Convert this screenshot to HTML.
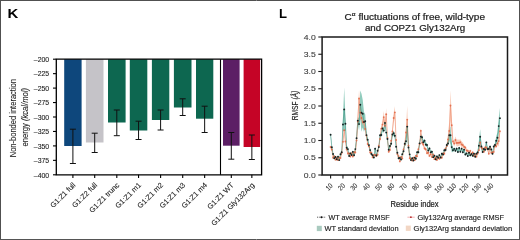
<!DOCTYPE html>
<html><head><meta charset="utf-8"><style>
html,body{margin:0;padding:0;background:#fff;-webkit-font-smoothing:antialiased;width:520px;height:240px;overflow:hidden;font-family:"Liberation Sans", sans-serif;}
</style></head><body>
<svg width="520" height="240" viewBox="0 0 520 240" style="position:absolute;left:0;top:0;will-change:transform">
<rect x="0" y="0" width="520" height="240" fill="#fff"/>
<text x="7.4" y="18.4" textLength="10.8" lengthAdjust="spacingAndGlyphs" font-family='"Liberation Sans", sans-serif' font-weight="bold" font-size="13.6" fill="#000">K</text>
<text x="279.0" y="18.4" textLength="8.0" lengthAdjust="spacingAndGlyphs" font-family='"Liberation Sans", sans-serif' font-weight="bold" font-size="13.6" fill="#000">L</text>
<rect x="64.2" y="59.2" width="17.4" height="86.80" fill="#0e477c"/>
<rect x="85.9" y="59.2" width="17.6" height="83.30" fill="#c5c3c8"/>
<rect x="108.0" y="59.2" width="17.6" height="63.30" fill="#0d6750"/>
<rect x="129.8" y="59.2" width="17.5" height="71.30" fill="#0d6750"/>
<rect x="151.9" y="59.2" width="17.4" height="60.80" fill="#0d6750"/>
<rect x="173.9" y="59.2" width="17.6" height="48.30" fill="#0d6750"/>
<rect x="196.0" y="59.2" width="17.3" height="59.50" fill="#0d6750"/>
<rect x="223.0" y="59.2" width="16.6" height="86.50" fill="#5c1f65"/>
<rect x="243.6" y="59.2" width="16.5" height="87.80" fill="#c50426"/>
<path d="M72.90 129.2V163.5M69.90 129.2h6M69.90 163.5h6" stroke="#111" stroke-width="1" fill="none"/>
<path d="M94.70 133.2V152.5M91.70 133.2h6M91.70 152.5h6" stroke="#111" stroke-width="1" fill="none"/>
<path d="M116.80 110.0V135.7M113.80 110.0h6M113.80 135.7h6" stroke="#111" stroke-width="1" fill="none"/>
<path d="M138.55 121.2V139.5M135.55 121.2h6M135.55 139.5h6" stroke="#111" stroke-width="1" fill="none"/>
<path d="M160.60 110.0V130.0M157.60 110.0h6M157.60 130.0h6" stroke="#111" stroke-width="1" fill="none"/>
<path d="M182.70 98.8V115.5M179.70 98.8h6M179.70 115.5h6" stroke="#111" stroke-width="1" fill="none"/>
<path d="M204.65 106.2V132.5M201.65 106.2h6M201.65 132.5h6" stroke="#111" stroke-width="1" fill="none"/>
<path d="M231.30 132.5V159.2M228.30 132.5h6M228.30 159.2h6" stroke="#111" stroke-width="1" fill="none"/>
<path d="M251.85 135.0V159.5M248.85 135.0h6M248.85 159.5h6" stroke="#111" stroke-width="1" fill="none"/>
<path d="M56.3 59.2V174.8H261.6V59.2Z" stroke="#000" stroke-width="1.3" fill="none"/>
<path d="M220.5 59.2V174.8" stroke="#000" stroke-width="1.1"/>
<path d="M53 59.20H56.3" stroke="#000" stroke-width="1.1"/>
<text x="49.2" y="61.90" text-anchor="end" font-family='"Liberation Sans", sans-serif' font-size="7.6" textLength="15.4" lengthAdjust="spacingAndGlyphs" fill="#1a1a1a" stroke="#1a1a1a" stroke-width="0.1">–200</text>
<path d="M53 73.65H56.3" stroke="#000" stroke-width="1.1"/>
<text x="49.2" y="76.35" text-anchor="end" font-family='"Liberation Sans", sans-serif' font-size="7.6" textLength="15.4" lengthAdjust="spacingAndGlyphs" fill="#1a1a1a" stroke="#1a1a1a" stroke-width="0.1">–225</text>
<path d="M53 88.10H56.3" stroke="#000" stroke-width="1.1"/>
<text x="49.2" y="90.80" text-anchor="end" font-family='"Liberation Sans", sans-serif' font-size="7.6" textLength="15.4" lengthAdjust="spacingAndGlyphs" fill="#1a1a1a" stroke="#1a1a1a" stroke-width="0.1">–250</text>
<path d="M53 102.55H56.3" stroke="#000" stroke-width="1.1"/>
<text x="49.2" y="105.25" text-anchor="end" font-family='"Liberation Sans", sans-serif' font-size="7.6" textLength="15.4" lengthAdjust="spacingAndGlyphs" fill="#1a1a1a" stroke="#1a1a1a" stroke-width="0.1">–275</text>
<path d="M53 117.00H56.3" stroke="#000" stroke-width="1.1"/>
<text x="49.2" y="119.70" text-anchor="end" font-family='"Liberation Sans", sans-serif' font-size="7.6" textLength="15.4" lengthAdjust="spacingAndGlyphs" fill="#1a1a1a" stroke="#1a1a1a" stroke-width="0.1">–300</text>
<path d="M53 131.45H56.3" stroke="#000" stroke-width="1.1"/>
<text x="49.2" y="134.15" text-anchor="end" font-family='"Liberation Sans", sans-serif' font-size="7.6" textLength="15.4" lengthAdjust="spacingAndGlyphs" fill="#1a1a1a" stroke="#1a1a1a" stroke-width="0.1">–325</text>
<path d="M53 145.90H56.3" stroke="#000" stroke-width="1.1"/>
<text x="49.2" y="148.60" text-anchor="end" font-family='"Liberation Sans", sans-serif' font-size="7.6" textLength="15.4" lengthAdjust="spacingAndGlyphs" fill="#1a1a1a" stroke="#1a1a1a" stroke-width="0.1">–350</text>
<path d="M53 160.35H56.3" stroke="#000" stroke-width="1.1"/>
<text x="49.2" y="163.05" text-anchor="end" font-family='"Liberation Sans", sans-serif' font-size="7.6" textLength="15.4" lengthAdjust="spacingAndGlyphs" fill="#1a1a1a" stroke="#1a1a1a" stroke-width="0.1">–375</text>
<path d="M53 174.80H56.3" stroke="#000" stroke-width="1.1"/>
<text x="49.2" y="177.50" text-anchor="end" font-family='"Liberation Sans", sans-serif' font-size="7.6" textLength="15.4" lengthAdjust="spacingAndGlyphs" fill="#1a1a1a" stroke="#1a1a1a" stroke-width="0.1">–400</text>
<path d="M72.90 174.8V178" stroke="#000" stroke-width="1.1"/>
<text x="75.90" y="185.60" transform="rotate(-45 75.90 185.60)" text-anchor="end" font-family='"Liberation Sans", sans-serif' font-size="7.4" fill="#1a1a1a" stroke="#1a1a1a" stroke-width="0.08">G1:Z1 full</text>
<path d="M94.70 174.8V178" stroke="#000" stroke-width="1.1"/>
<text x="97.70" y="185.60" transform="rotate(-45 97.70 185.60)" text-anchor="end" font-family='"Liberation Sans", sans-serif' font-size="7.4" fill="#1a1a1a" stroke="#1a1a1a" stroke-width="0.08">G1:Z2 full</text>
<path d="M116.80 174.8V178" stroke="#000" stroke-width="1.1"/>
<text x="119.80" y="185.60" transform="rotate(-45 119.80 185.60)" text-anchor="end" font-family='"Liberation Sans", sans-serif' font-size="7.4" fill="#1a1a1a" stroke="#1a1a1a" stroke-width="0.08">G1:Z1 trunc</text>
<path d="M138.55 174.8V178" stroke="#000" stroke-width="1.1"/>
<text x="141.55" y="185.60" transform="rotate(-45 141.55 185.60)" text-anchor="end" font-family='"Liberation Sans", sans-serif' font-size="7.4" fill="#1a1a1a" stroke="#1a1a1a" stroke-width="0.08">G1:Z1 m1</text>
<path d="M160.60 174.8V178" stroke="#000" stroke-width="1.1"/>
<text x="163.60" y="185.60" transform="rotate(-45 163.60 185.60)" text-anchor="end" font-family='"Liberation Sans", sans-serif' font-size="7.4" fill="#1a1a1a" stroke="#1a1a1a" stroke-width="0.08">G1:Z1 m2</text>
<path d="M182.70 174.8V178" stroke="#000" stroke-width="1.1"/>
<text x="185.70" y="185.60" transform="rotate(-45 185.70 185.60)" text-anchor="end" font-family='"Liberation Sans", sans-serif' font-size="7.4" fill="#1a1a1a" stroke="#1a1a1a" stroke-width="0.08">G1:Z1 m3</text>
<path d="M204.65 174.8V178" stroke="#000" stroke-width="1.1"/>
<text x="207.65" y="185.60" transform="rotate(-45 207.65 185.60)" text-anchor="end" font-family='"Liberation Sans", sans-serif' font-size="7.4" fill="#1a1a1a" stroke="#1a1a1a" stroke-width="0.08">G1:Z1 m4</text>
<path d="M231.30 174.8V178" stroke="#000" stroke-width="1.1"/>
<text x="234.30" y="185.60" transform="rotate(-45 234.30 185.60)" text-anchor="end" font-family='"Liberation Sans", sans-serif' font-size="7.4" fill="#1a1a1a" stroke="#1a1a1a" stroke-width="0.08">G1:Z1 WT</text>
<path d="M251.85 174.8V178" stroke="#000" stroke-width="1.1"/>
<text x="254.85" y="185.60" transform="rotate(-45 254.85 185.60)" text-anchor="end" font-family='"Liberation Sans", sans-serif' font-size="7.4" fill="#1a1a1a" stroke="#1a1a1a" stroke-width="0.08">G1:Z1 Gly132Arg</text>
<text transform="translate(16.4 157.3) rotate(-90)" textLength="78.3" lengthAdjust="spacingAndGlyphs" font-family='"Liberation Sans", sans-serif' font-size="9.4" fill="#1a1a1a" stroke="#1a1a1a" stroke-width="0.1">Non-bonded interaction</text>
<text transform="translate(27.6 146.6) rotate(-90)" textLength="58.6" lengthAdjust="spacingAndGlyphs" font-family='"Liberation Sans", sans-serif' font-size="9.4" fill="#1a1a1a" stroke="#1a1a1a" stroke-width="0.1">energy <tspan font-style="italic">(kcal/mol)</tspan></text>
<polygon points="330.60,132.31 331.84,145.47 333.07,152.68 334.31,157.10 335.54,155.77 336.78,157.97 338.02,155.51 339.25,158.88 340.49,152.90 341.72,149.72 342.96,117.54 344.20,87.49 345.43,116.72 346.67,145.01 347.90,147.48 349.14,154.73 350.38,151.99 351.61,153.59 352.85,150.32 354.08,153.85 355.32,147.46 356.56,135.96 357.79,117.52 359.03,117.75 360.26,90.62 361.50,93.71 362.74,99.94 363.97,112.00 365.21,114.15 366.44,130.68 367.68,137.70 368.92,143.27 370.15,148.50 371.39,152.67 372.62,153.89 373.86,156.34 375.10,147.09 376.33,154.18 377.57,149.24 378.80,145.37 380.04,132.93 381.28,132.58 382.51,125.88 383.75,127.93 384.98,119.93 386.22,130.14 387.46,136.88 388.69,148.21 389.93,144.21 391.16,141.89 392.40,132.15 393.64,130.83 394.87,133.47 396.11,144.95 397.34,151.24 398.58,157.00 399.82,156.84 401.05,158.27 402.29,152.77 403.52,149.70 404.76,141.78 406.00,136.51 407.23,118.66 408.47,143.99 409.70,152.98 410.94,158.88 412.18,157.02 413.41,159.34 414.65,156.40 415.88,157.60 417.12,150.68 418.36,150.77 419.59,141.43 420.83,134.31 422.06,134.99 423.30,140.21 424.54,138.73 425.77,142.79 427.01,143.10 428.24,148.96 429.48,146.83 430.72,150.85 431.95,150.22 433.19,155.91 434.42,154.40 435.66,158.08 436.90,155.10 438.13,156.48 439.37,153.78 440.60,156.31 441.84,152.31 443.08,153.19 444.31,148.66 445.55,148.45 446.78,143.08 448.02,141.55 449.26,129.54 450.49,126.01 451.73,141.93 452.96,148.73 454.20,147.21 455.44,149.21 456.67,147.02 457.91,150.52 459.14,146.23 460.38,150.25 461.62,147.00 462.85,150.76 464.09,148.03 465.32,153.08 466.56,151.98 467.80,154.71 469.03,151.31 470.27,153.89 471.50,152.66 472.74,154.48 473.98,152.37 475.21,155.55 476.45,152.24 477.68,150.86 478.92,140.52 480.16,129.34 481.39,142.95 482.63,150.47 483.86,147.36 485.10,148.19 486.34,140.43 487.57,147.40 488.81,147.33 490.04,144.93 491.28,147.75 492.52,152.39 493.75,144.78 494.99,143.17 496.22,136.60 497.46,132.14 498.70,118.16 499.93,108.05 499.93,128.22 498.70,134.09 497.46,143.45 496.22,144.85 494.99,146.86 493.75,148.32 492.52,155.20 491.28,151.00 490.04,148.45 488.81,150.62 487.57,150.69 486.34,144.38 485.10,151.40 483.86,150.65 482.63,153.46 481.39,149.94 480.16,144.20 478.92,151.03 477.68,153.81 476.45,155.06 475.21,158.06 473.98,155.19 472.74,157.09 471.50,155.45 470.27,156.56 469.03,154.23 467.80,157.30 466.56,154.83 465.32,155.82 464.09,151.26 462.85,153.73 461.62,150.32 460.38,153.27 459.14,149.63 457.91,153.51 456.67,150.34 455.44,152.32 454.20,150.51 452.96,151.89 451.73,152.31 450.49,144.48 449.26,141.10 448.02,145.39 446.78,146.78 445.55,151.63 444.31,151.83 443.08,155.92 441.84,155.12 440.60,158.75 439.37,156.45 438.13,158.90 436.90,157.65 435.66,160.50 434.42,157.02 433.19,158.38 431.95,153.24 430.72,153.81 429.48,150.17 428.24,152.09 427.01,146.79 425.77,146.51 424.54,142.84 423.30,144.18 422.06,139.45 420.83,138.84 419.59,145.28 418.36,153.73 417.12,153.66 415.88,160.01 414.65,158.83 413.41,161.75 412.18,159.44 410.94,161.30 409.70,155.73 408.47,150.88 407.23,134.54 406.00,146.09 404.76,145.60 403.52,152.77 402.29,155.55 401.05,160.68 399.82,159.26 398.58,159.41 397.34,154.16 396.11,148.47 394.87,138.08 393.64,135.70 392.40,136.89 391.16,145.70 389.93,147.80 388.69,151.42 387.46,141.17 386.22,135.07 384.98,125.83 383.75,133.07 382.51,131.22 381.28,137.28 380.04,137.59 378.80,148.85 377.57,152.35 376.33,156.82 375.10,150.41 373.86,158.78 372.62,156.55 371.39,155.45 370.15,151.68 368.92,146.95 367.68,141.91 366.44,139.51 365.21,128.49 363.97,131.80 362.74,127.46 361.50,131.68 360.26,119.03 359.03,130.43 357.79,123.65 356.56,140.34 355.32,150.74 354.08,156.52 352.85,153.33 351.61,156.29 350.38,154.84 349.14,157.32 347.90,150.76 346.67,150.50 345.43,130.81 344.20,131.31 342.96,131.55 341.72,154.75 340.49,155.66 339.25,161.30 338.02,158.02 336.78,160.38 335.54,158.26 334.31,159.51 333.07,155.46 331.84,148.94 330.60,137.04" fill="#45a890" fill-opacity="0.6"/>
<polygon points="330.60,145.28 331.84,147.94 333.07,156.51 334.31,155.02 335.54,158.46 336.78,156.80 338.02,158.95 339.25,156.37 340.49,156.80 341.72,151.30 342.96,139.72 344.20,127.59 345.43,139.51 346.67,147.70 347.90,152.08 349.14,152.07 350.38,155.20 351.61,151.64 352.85,155.25 354.08,150.78 355.32,151.07 356.56,134.99 357.79,111.56 359.03,90.16 360.26,105.74 361.50,114.88 362.74,119.25 363.97,119.15 365.21,126.26 366.44,133.30 367.68,142.10 368.92,144.45 370.15,150.98 371.39,151.19 372.62,156.06 373.86,153.75 375.10,153.56 376.33,154.54 377.57,153.43 378.80,144.18 380.04,136.85 381.28,125.99 382.51,120.03 383.75,111.12 384.98,123.00 386.22,107.98 387.46,135.81 388.69,150.18 389.93,148.48 391.16,138.62 392.40,128.84 393.64,113.06 394.87,106.13 396.11,137.89 397.34,152.72 398.58,155.03 399.82,160.20 401.05,155.59 402.29,157.34 403.52,147.75 404.76,142.46 406.00,126.54 407.23,106.12 408.47,141.09 409.70,157.01 410.94,157.64 412.18,159.38 413.41,156.51 414.65,158.92 415.88,154.48 417.12,155.07 418.36,147.61 419.59,142.15 420.83,128.15 422.06,140.90 423.30,142.63 424.54,146.78 425.77,147.54 427.01,151.75 428.24,150.99 429.48,154.58 430.72,152.77 431.95,155.86 433.19,153.18 434.42,157.95 435.66,156.16 436.90,158.81 438.13,155.98 439.37,157.62 440.60,155.91 441.84,156.65 443.08,152.05 444.31,152.35 445.55,147.14 446.78,144.25 448.02,133.82 449.26,121.46 450.49,90.33 451.73,115.49 452.96,139.41 454.20,140.67 455.44,136.48 456.67,139.68 457.91,139.51 459.14,139.73 460.38,139.19 461.62,141.57 462.85,142.57 464.09,145.10 465.32,145.74 466.56,149.01 467.80,149.23 469.03,151.13 470.27,149.31 471.50,152.70 472.74,151.01 473.98,154.70 475.21,152.80 476.45,155.40 477.68,152.05 478.92,148.59 480.16,140.51 481.39,145.86 482.63,146.90 483.86,150.21 485.10,145.76 486.34,145.70 487.57,147.44 488.81,152.32 490.04,146.18 491.28,151.37 492.52,150.86 493.75,150.39 494.99,143.58 496.22,144.59 497.46,141.49 498.70,135.63 499.93,125.25 499.93,137.21 498.70,146.61 497.46,145.34 496.22,148.14 494.99,147.23 493.75,153.39 492.52,153.82 491.28,154.28 490.04,149.58 488.81,155.13 487.57,150.72 486.34,149.15 485.10,149.21 483.86,153.23 482.63,150.23 481.39,149.29 480.16,144.45 478.92,151.76 477.68,154.89 476.45,157.92 475.21,155.57 473.98,157.29 472.74,153.95 471.50,155.48 470.27,152.42 469.03,154.06 467.80,152.34 466.56,152.15 465.32,149.18 464.09,148.61 462.85,147.63 461.62,147.38 460.38,145.23 459.14,145.72 457.91,146.18 456.67,146.33 455.44,143.44 454.20,146.57 452.96,143.45 451.73,134.95 450.49,120.74 449.26,140.36 448.02,144.97 446.78,147.83 445.55,150.45 444.31,155.16 443.08,154.89 441.84,159.06 440.60,158.39 439.37,160.04 438.13,158.45 436.90,161.23 435.66,158.61 434.42,160.36 433.19,155.92 431.95,158.34 430.72,155.54 429.48,157.18 428.24,153.93 427.01,154.62 425.77,150.81 424.54,150.12 423.30,146.37 422.06,144.80 420.83,133.27 419.59,145.94 418.36,150.88 417.12,157.62 415.88,157.09 414.65,161.34 413.41,158.93 412.18,161.79 410.94,160.06 409.70,159.43 408.47,150.24 407.23,133.05 406.00,138.39 404.76,146.22 403.52,151.00 402.29,159.75 401.05,158.10 399.82,162.62 398.58,157.59 397.34,155.49 396.11,142.08 394.87,118.60 393.64,122.90 392.40,133.89 391.16,142.75 389.93,151.66 388.69,153.20 387.46,140.20 386.22,120.28 384.98,128.61 383.75,123.12 382.51,129.20 381.28,131.32 380.04,141.14 378.80,147.77 377.57,156.14 376.33,157.14 375.10,156.26 373.86,156.43 372.62,158.52 371.39,154.11 370.15,153.92 368.92,148.02 367.68,145.89 366.44,137.93 365.21,131.56 363.97,125.13 362.74,125.21 361.50,121.26 360.26,119.56 359.03,106.78 357.79,131.40 356.56,146.03 355.32,154.00 354.08,153.74 352.85,157.79 351.61,154.52 350.38,157.74 349.14,154.91 347.90,154.92 346.67,150.96 345.43,143.54 344.20,132.76 342.96,143.74 341.72,154.21 340.49,159.22 339.25,158.80 338.02,161.37 336.78,159.21 335.54,160.88 334.31,157.58 333.07,158.93 331.84,151.17 330.60,148.77" fill="#f4a07c" fill-opacity="0.5"/>
<polyline points="330.60,147.02 331.84,149.56 333.07,157.72 334.31,156.30 335.54,159.67 336.78,158.01 338.02,160.16 339.25,157.59 340.49,158.01 341.72,152.76 342.96,141.73 344.20,130.17 345.43,141.53 346.67,149.33 347.90,153.50 349.14,153.49 350.38,156.47 351.61,153.08 352.85,156.52 354.08,152.26 355.32,152.54 356.56,140.51 357.79,121.48 359.03,98.47 360.26,112.65 361.50,118.07 362.74,122.23 363.97,122.14 365.21,128.91 366.44,135.61 367.68,144.00 368.92,146.24 370.15,152.45 371.39,152.65 372.62,157.29 373.86,155.09 375.10,154.91 376.33,155.84 377.57,154.78 378.80,145.98 380.04,139.00 381.28,128.66 382.51,124.62 383.75,117.12 384.98,125.80 386.22,114.13 387.46,138.00 388.69,151.69 389.93,150.07 391.16,140.69 392.40,131.36 393.64,117.98 394.87,112.37 396.11,139.98 397.34,154.11 398.58,156.31 399.82,161.41 401.05,156.84 402.29,158.54 403.52,149.38 404.76,144.34 406.00,132.46 407.23,119.58 408.47,145.66 409.70,158.22 410.94,158.85 412.18,160.59 413.41,157.72 414.65,160.13 415.88,155.78 417.12,156.34 418.36,149.24 419.59,144.04 420.83,130.71 422.06,142.85 423.30,144.50 424.54,148.45 425.77,149.18 427.01,153.18 428.24,152.46 429.48,155.88 430.72,154.15 431.95,157.10 433.19,154.55 434.42,159.16 435.66,157.39 436.90,160.02 438.13,157.22 439.37,158.83 440.60,157.15 441.84,157.85 443.08,153.47 444.31,153.75 445.55,148.79 446.78,146.04 448.02,139.40 449.26,130.91 450.49,105.54 451.73,125.22 452.96,141.43 454.20,143.62 455.44,139.96 456.67,143.01 457.91,142.85 459.14,142.73 460.38,142.21 461.62,144.48 462.85,145.10 464.09,146.86 465.32,147.46 466.56,150.58 467.80,150.78 469.03,152.59 470.27,150.86 471.50,154.09 472.74,152.48 473.98,156.00 475.21,154.19 476.45,156.66 477.68,153.47 478.92,150.17 480.16,142.48 481.39,147.58 482.63,148.56 483.86,151.72 485.10,147.48 486.34,147.43 487.57,149.08 488.81,153.72 490.04,147.88 491.28,152.83 492.52,152.34 493.75,151.89 494.99,145.40 496.22,146.37 497.46,143.41 498.70,141.12 499.93,131.23" fill="none" stroke="#ec8a6c" stroke-width="0.7" stroke-opacity="0.85" stroke-linejoin="round"/>
<polyline points="330.60,134.68 331.84,147.20 333.07,154.07 334.31,158.30 335.54,157.01 336.78,159.18 338.02,156.76 339.25,160.09 340.49,154.28 341.72,152.24 342.96,124.54 344.20,109.40 345.43,123.76 346.67,147.75 347.90,149.12 349.14,156.03 350.38,153.41 351.61,154.94 352.85,151.83 354.08,155.19 355.32,149.10 356.56,138.15 357.79,120.58 359.03,124.09 360.26,104.82 361.50,112.69 362.74,113.70 363.97,121.90 365.21,121.32 366.44,135.09 367.68,139.80 368.92,145.11 370.15,150.09 371.39,154.06 372.62,155.22 373.86,157.56 375.10,148.75 376.33,155.50 377.57,150.80 378.80,147.11 380.04,135.26 381.28,134.93 382.51,128.55 383.75,130.50 384.98,122.88 386.22,132.60 387.46,139.03 388.69,149.82 389.93,146.01 391.16,143.79 392.40,134.52 393.64,133.26 394.87,135.77 396.11,146.71 397.34,152.70 398.58,158.21 399.82,158.05 401.05,159.47 402.29,154.16 403.52,151.23 404.76,143.69 406.00,141.30 407.23,126.60 408.47,147.43 409.70,154.36 410.94,160.09 412.18,158.23 413.41,160.54 414.65,157.61 415.88,158.81 417.12,152.17 418.36,152.25 419.59,143.36 420.83,136.58 422.06,137.22 423.30,142.20 424.54,140.79 425.77,144.65 427.01,144.95 428.24,150.52 429.48,148.50 430.72,152.33 431.95,151.73 433.19,157.15 434.42,155.71 435.66,159.29 436.90,156.38 438.13,157.69 439.37,155.11 440.60,157.53 441.84,153.71 443.08,154.56 444.31,150.24 445.55,150.04 446.78,144.93 448.02,143.47 449.26,135.32 450.49,135.24 451.73,147.12 452.96,150.31 454.20,148.86 455.44,150.76 456.67,148.68 457.91,152.02 459.14,147.93 460.38,151.76 461.62,148.66 462.85,152.25 464.09,149.64 465.32,154.45 466.56,153.40 467.80,156.00 469.03,152.77 470.27,155.23 471.50,154.05 472.74,155.79 473.98,153.78 475.21,156.80 476.45,153.65 477.68,152.34 478.92,145.77 480.16,136.77 481.39,146.44 482.63,151.97 483.86,149.00 485.10,149.79 486.34,142.41 487.57,149.05 488.81,148.98 490.04,146.69 491.28,149.38 492.52,153.79 493.75,146.55 494.99,145.01 496.22,140.73 497.46,137.80 498.70,126.12 499.93,118.13" fill="none" stroke="#2f8a78" stroke-width="0.6" stroke-opacity="0.8" stroke-linejoin="round"/>
<circle cx="330.60" cy="147.02" r="0.95" fill="#e0623f" fill-opacity="0.8"/>
<circle cx="331.84" cy="149.56" r="0.95" fill="#e0623f" fill-opacity="0.8"/>
<circle cx="333.07" cy="157.72" r="0.95" fill="#e0623f" fill-opacity="0.8"/>
<circle cx="334.31" cy="156.30" r="0.95" fill="#e0623f" fill-opacity="0.8"/>
<circle cx="335.54" cy="159.67" r="0.95" fill="#e0623f" fill-opacity="0.8"/>
<circle cx="336.78" cy="158.01" r="0.95" fill="#e0623f" fill-opacity="0.8"/>
<circle cx="338.02" cy="160.16" r="0.95" fill="#e0623f" fill-opacity="0.8"/>
<circle cx="339.25" cy="157.59" r="0.95" fill="#e0623f" fill-opacity="0.8"/>
<circle cx="340.49" cy="158.01" r="0.95" fill="#e0623f" fill-opacity="0.8"/>
<circle cx="341.72" cy="152.76" r="0.95" fill="#e0623f" fill-opacity="0.8"/>
<circle cx="342.96" cy="141.73" r="0.95" fill="#e0623f" fill-opacity="0.8"/>
<circle cx="344.20" cy="130.17" r="0.95" fill="#e0623f" fill-opacity="0.8"/>
<circle cx="345.43" cy="141.53" r="0.95" fill="#e0623f" fill-opacity="0.8"/>
<circle cx="346.67" cy="149.33" r="0.95" fill="#e0623f" fill-opacity="0.8"/>
<circle cx="347.90" cy="153.50" r="0.95" fill="#e0623f" fill-opacity="0.8"/>
<circle cx="349.14" cy="153.49" r="0.95" fill="#e0623f" fill-opacity="0.8"/>
<circle cx="350.38" cy="156.47" r="0.95" fill="#e0623f" fill-opacity="0.8"/>
<circle cx="351.61" cy="153.08" r="0.95" fill="#e0623f" fill-opacity="0.8"/>
<circle cx="352.85" cy="156.52" r="0.95" fill="#e0623f" fill-opacity="0.8"/>
<circle cx="354.08" cy="152.26" r="0.95" fill="#e0623f" fill-opacity="0.8"/>
<circle cx="355.32" cy="152.54" r="0.95" fill="#e0623f" fill-opacity="0.8"/>
<circle cx="356.56" cy="140.51" r="0.95" fill="#e0623f" fill-opacity="0.8"/>
<circle cx="357.79" cy="121.48" r="0.95" fill="#e0623f" fill-opacity="0.8"/>
<circle cx="359.03" cy="98.47" r="0.95" fill="#e0623f" fill-opacity="0.8"/>
<circle cx="360.26" cy="112.65" r="0.95" fill="#e0623f" fill-opacity="0.8"/>
<circle cx="361.50" cy="118.07" r="0.95" fill="#e0623f" fill-opacity="0.8"/>
<circle cx="362.74" cy="122.23" r="0.95" fill="#e0623f" fill-opacity="0.8"/>
<circle cx="363.97" cy="122.14" r="0.95" fill="#e0623f" fill-opacity="0.8"/>
<circle cx="365.21" cy="128.91" r="0.95" fill="#e0623f" fill-opacity="0.8"/>
<circle cx="366.44" cy="135.61" r="0.95" fill="#e0623f" fill-opacity="0.8"/>
<circle cx="367.68" cy="144.00" r="0.95" fill="#e0623f" fill-opacity="0.8"/>
<circle cx="368.92" cy="146.24" r="0.95" fill="#e0623f" fill-opacity="0.8"/>
<circle cx="370.15" cy="152.45" r="0.95" fill="#e0623f" fill-opacity="0.8"/>
<circle cx="371.39" cy="152.65" r="0.95" fill="#e0623f" fill-opacity="0.8"/>
<circle cx="372.62" cy="157.29" r="0.95" fill="#e0623f" fill-opacity="0.8"/>
<circle cx="373.86" cy="155.09" r="0.95" fill="#e0623f" fill-opacity="0.8"/>
<circle cx="375.10" cy="154.91" r="0.95" fill="#e0623f" fill-opacity="0.8"/>
<circle cx="376.33" cy="155.84" r="0.95" fill="#e0623f" fill-opacity="0.8"/>
<circle cx="377.57" cy="154.78" r="0.95" fill="#e0623f" fill-opacity="0.8"/>
<circle cx="378.80" cy="145.98" r="0.95" fill="#e0623f" fill-opacity="0.8"/>
<circle cx="380.04" cy="139.00" r="0.95" fill="#e0623f" fill-opacity="0.8"/>
<circle cx="381.28" cy="128.66" r="0.95" fill="#e0623f" fill-opacity="0.8"/>
<circle cx="382.51" cy="124.62" r="0.95" fill="#e0623f" fill-opacity="0.8"/>
<circle cx="383.75" cy="117.12" r="0.95" fill="#e0623f" fill-opacity="0.8"/>
<circle cx="384.98" cy="125.80" r="0.95" fill="#e0623f" fill-opacity="0.8"/>
<circle cx="386.22" cy="114.13" r="0.95" fill="#e0623f" fill-opacity="0.8"/>
<circle cx="387.46" cy="138.00" r="0.95" fill="#e0623f" fill-opacity="0.8"/>
<circle cx="388.69" cy="151.69" r="0.95" fill="#e0623f" fill-opacity="0.8"/>
<circle cx="389.93" cy="150.07" r="0.95" fill="#e0623f" fill-opacity="0.8"/>
<circle cx="391.16" cy="140.69" r="0.95" fill="#e0623f" fill-opacity="0.8"/>
<circle cx="392.40" cy="131.36" r="0.95" fill="#e0623f" fill-opacity="0.8"/>
<circle cx="393.64" cy="117.98" r="0.95" fill="#e0623f" fill-opacity="0.8"/>
<circle cx="394.87" cy="112.37" r="0.95" fill="#e0623f" fill-opacity="0.8"/>
<circle cx="396.11" cy="139.98" r="0.95" fill="#e0623f" fill-opacity="0.8"/>
<circle cx="397.34" cy="154.11" r="0.95" fill="#e0623f" fill-opacity="0.8"/>
<circle cx="398.58" cy="156.31" r="0.95" fill="#e0623f" fill-opacity="0.8"/>
<circle cx="399.82" cy="161.41" r="0.95" fill="#e0623f" fill-opacity="0.8"/>
<circle cx="401.05" cy="156.84" r="0.95" fill="#e0623f" fill-opacity="0.8"/>
<circle cx="402.29" cy="158.54" r="0.95" fill="#e0623f" fill-opacity="0.8"/>
<circle cx="403.52" cy="149.38" r="0.95" fill="#e0623f" fill-opacity="0.8"/>
<circle cx="404.76" cy="144.34" r="0.95" fill="#e0623f" fill-opacity="0.8"/>
<circle cx="406.00" cy="132.46" r="0.95" fill="#e0623f" fill-opacity="0.8"/>
<circle cx="407.23" cy="119.58" r="0.95" fill="#e0623f" fill-opacity="0.8"/>
<circle cx="408.47" cy="145.66" r="0.95" fill="#e0623f" fill-opacity="0.8"/>
<circle cx="409.70" cy="158.22" r="0.95" fill="#e0623f" fill-opacity="0.8"/>
<circle cx="410.94" cy="158.85" r="0.95" fill="#e0623f" fill-opacity="0.8"/>
<circle cx="412.18" cy="160.59" r="0.95" fill="#e0623f" fill-opacity="0.8"/>
<circle cx="413.41" cy="157.72" r="0.95" fill="#e0623f" fill-opacity="0.8"/>
<circle cx="414.65" cy="160.13" r="0.95" fill="#e0623f" fill-opacity="0.8"/>
<circle cx="415.88" cy="155.78" r="0.95" fill="#e0623f" fill-opacity="0.8"/>
<circle cx="417.12" cy="156.34" r="0.95" fill="#e0623f" fill-opacity="0.8"/>
<circle cx="418.36" cy="149.24" r="0.95" fill="#e0623f" fill-opacity="0.8"/>
<circle cx="419.59" cy="144.04" r="0.95" fill="#e0623f" fill-opacity="0.8"/>
<circle cx="420.83" cy="130.71" r="0.95" fill="#e0623f" fill-opacity="0.8"/>
<circle cx="422.06" cy="142.85" r="0.95" fill="#e0623f" fill-opacity="0.8"/>
<circle cx="423.30" cy="144.50" r="0.95" fill="#e0623f" fill-opacity="0.8"/>
<circle cx="424.54" cy="148.45" r="0.95" fill="#e0623f" fill-opacity="0.8"/>
<circle cx="425.77" cy="149.18" r="0.95" fill="#e0623f" fill-opacity="0.8"/>
<circle cx="427.01" cy="153.18" r="0.95" fill="#e0623f" fill-opacity="0.8"/>
<circle cx="428.24" cy="152.46" r="0.95" fill="#e0623f" fill-opacity="0.8"/>
<circle cx="429.48" cy="155.88" r="0.95" fill="#e0623f" fill-opacity="0.8"/>
<circle cx="430.72" cy="154.15" r="0.95" fill="#e0623f" fill-opacity="0.8"/>
<circle cx="431.95" cy="157.10" r="0.95" fill="#e0623f" fill-opacity="0.8"/>
<circle cx="433.19" cy="154.55" r="0.95" fill="#e0623f" fill-opacity="0.8"/>
<circle cx="434.42" cy="159.16" r="0.95" fill="#e0623f" fill-opacity="0.8"/>
<circle cx="435.66" cy="157.39" r="0.95" fill="#e0623f" fill-opacity="0.8"/>
<circle cx="436.90" cy="160.02" r="0.95" fill="#e0623f" fill-opacity="0.8"/>
<circle cx="438.13" cy="157.22" r="0.95" fill="#e0623f" fill-opacity="0.8"/>
<circle cx="439.37" cy="158.83" r="0.95" fill="#e0623f" fill-opacity="0.8"/>
<circle cx="440.60" cy="157.15" r="0.95" fill="#e0623f" fill-opacity="0.8"/>
<circle cx="441.84" cy="157.85" r="0.95" fill="#e0623f" fill-opacity="0.8"/>
<circle cx="443.08" cy="153.47" r="0.95" fill="#e0623f" fill-opacity="0.8"/>
<circle cx="444.31" cy="153.75" r="0.95" fill="#e0623f" fill-opacity="0.8"/>
<circle cx="445.55" cy="148.79" r="0.95" fill="#e0623f" fill-opacity="0.8"/>
<circle cx="446.78" cy="146.04" r="0.95" fill="#e0623f" fill-opacity="0.8"/>
<circle cx="448.02" cy="139.40" r="0.95" fill="#e0623f" fill-opacity="0.8"/>
<circle cx="449.26" cy="130.91" r="0.95" fill="#e0623f" fill-opacity="0.8"/>
<circle cx="450.49" cy="105.54" r="0.95" fill="#e0623f" fill-opacity="0.8"/>
<circle cx="451.73" cy="125.22" r="0.95" fill="#e0623f" fill-opacity="0.8"/>
<circle cx="452.96" cy="141.43" r="0.95" fill="#e0623f" fill-opacity="0.8"/>
<circle cx="454.20" cy="143.62" r="0.95" fill="#e0623f" fill-opacity="0.8"/>
<circle cx="455.44" cy="139.96" r="0.95" fill="#e0623f" fill-opacity="0.8"/>
<circle cx="456.67" cy="143.01" r="0.95" fill="#e0623f" fill-opacity="0.8"/>
<circle cx="457.91" cy="142.85" r="0.95" fill="#e0623f" fill-opacity="0.8"/>
<circle cx="459.14" cy="142.73" r="0.95" fill="#e0623f" fill-opacity="0.8"/>
<circle cx="460.38" cy="142.21" r="0.95" fill="#e0623f" fill-opacity="0.8"/>
<circle cx="461.62" cy="144.48" r="0.95" fill="#e0623f" fill-opacity="0.8"/>
<circle cx="462.85" cy="145.10" r="0.95" fill="#e0623f" fill-opacity="0.8"/>
<circle cx="464.09" cy="146.86" r="0.95" fill="#e0623f" fill-opacity="0.8"/>
<circle cx="465.32" cy="147.46" r="0.95" fill="#e0623f" fill-opacity="0.8"/>
<circle cx="466.56" cy="150.58" r="0.95" fill="#e0623f" fill-opacity="0.8"/>
<circle cx="467.80" cy="150.78" r="0.95" fill="#e0623f" fill-opacity="0.8"/>
<circle cx="469.03" cy="152.59" r="0.95" fill="#e0623f" fill-opacity="0.8"/>
<circle cx="470.27" cy="150.86" r="0.95" fill="#e0623f" fill-opacity="0.8"/>
<circle cx="471.50" cy="154.09" r="0.95" fill="#e0623f" fill-opacity="0.8"/>
<circle cx="472.74" cy="152.48" r="0.95" fill="#e0623f" fill-opacity="0.8"/>
<circle cx="473.98" cy="156.00" r="0.95" fill="#e0623f" fill-opacity="0.8"/>
<circle cx="475.21" cy="154.19" r="0.95" fill="#e0623f" fill-opacity="0.8"/>
<circle cx="476.45" cy="156.66" r="0.95" fill="#e0623f" fill-opacity="0.8"/>
<circle cx="477.68" cy="153.47" r="0.95" fill="#e0623f" fill-opacity="0.8"/>
<circle cx="478.92" cy="150.17" r="0.95" fill="#e0623f" fill-opacity="0.8"/>
<circle cx="480.16" cy="142.48" r="0.95" fill="#e0623f" fill-opacity="0.8"/>
<circle cx="481.39" cy="147.58" r="0.95" fill="#e0623f" fill-opacity="0.8"/>
<circle cx="482.63" cy="148.56" r="0.95" fill="#e0623f" fill-opacity="0.8"/>
<circle cx="483.86" cy="151.72" r="0.95" fill="#e0623f" fill-opacity="0.8"/>
<circle cx="485.10" cy="147.48" r="0.95" fill="#e0623f" fill-opacity="0.8"/>
<circle cx="486.34" cy="147.43" r="0.95" fill="#e0623f" fill-opacity="0.8"/>
<circle cx="487.57" cy="149.08" r="0.95" fill="#e0623f" fill-opacity="0.8"/>
<circle cx="488.81" cy="153.72" r="0.95" fill="#e0623f" fill-opacity="0.8"/>
<circle cx="490.04" cy="147.88" r="0.95" fill="#e0623f" fill-opacity="0.8"/>
<circle cx="491.28" cy="152.83" r="0.95" fill="#e0623f" fill-opacity="0.8"/>
<circle cx="492.52" cy="152.34" r="0.95" fill="#e0623f" fill-opacity="0.8"/>
<circle cx="493.75" cy="151.89" r="0.95" fill="#e0623f" fill-opacity="0.8"/>
<circle cx="494.99" cy="145.40" r="0.95" fill="#e0623f" fill-opacity="0.8"/>
<circle cx="496.22" cy="146.37" r="0.95" fill="#e0623f" fill-opacity="0.8"/>
<circle cx="497.46" cy="143.41" r="0.95" fill="#e0623f" fill-opacity="0.8"/>
<circle cx="498.70" cy="141.12" r="0.95" fill="#e0623f" fill-opacity="0.8"/>
<circle cx="499.93" cy="131.23" r="0.95" fill="#e0623f" fill-opacity="0.8"/>
<circle cx="330.60" cy="134.68" r="0.95" fill="#162222"/>
<circle cx="331.84" cy="147.20" r="0.95" fill="#162222"/>
<circle cx="333.07" cy="154.07" r="0.95" fill="#162222"/>
<circle cx="334.31" cy="158.30" r="0.95" fill="#162222"/>
<circle cx="335.54" cy="157.01" r="0.95" fill="#162222"/>
<circle cx="336.78" cy="159.18" r="0.95" fill="#162222"/>
<circle cx="338.02" cy="156.76" r="0.95" fill="#162222"/>
<circle cx="339.25" cy="160.09" r="0.95" fill="#162222"/>
<circle cx="340.49" cy="154.28" r="0.95" fill="#162222"/>
<circle cx="341.72" cy="152.24" r="0.95" fill="#162222"/>
<circle cx="342.96" cy="124.54" r="0.95" fill="#162222"/>
<circle cx="344.20" cy="109.40" r="0.95" fill="#162222"/>
<circle cx="345.43" cy="123.76" r="0.95" fill="#162222"/>
<circle cx="346.67" cy="147.75" r="0.95" fill="#162222"/>
<circle cx="347.90" cy="149.12" r="0.95" fill="#162222"/>
<circle cx="349.14" cy="156.03" r="0.95" fill="#162222"/>
<circle cx="350.38" cy="153.41" r="0.95" fill="#162222"/>
<circle cx="351.61" cy="154.94" r="0.95" fill="#162222"/>
<circle cx="352.85" cy="151.83" r="0.95" fill="#162222"/>
<circle cx="354.08" cy="155.19" r="0.95" fill="#162222"/>
<circle cx="355.32" cy="149.10" r="0.95" fill="#162222"/>
<circle cx="356.56" cy="138.15" r="0.95" fill="#162222"/>
<circle cx="357.79" cy="120.58" r="0.95" fill="#162222"/>
<circle cx="359.03" cy="124.09" r="0.95" fill="#162222"/>
<circle cx="360.26" cy="104.82" r="0.95" fill="#162222"/>
<circle cx="361.50" cy="112.69" r="0.95" fill="#162222"/>
<circle cx="362.74" cy="113.70" r="0.95" fill="#162222"/>
<circle cx="363.97" cy="121.90" r="0.95" fill="#162222"/>
<circle cx="365.21" cy="121.32" r="0.95" fill="#162222"/>
<circle cx="366.44" cy="135.09" r="0.95" fill="#162222"/>
<circle cx="367.68" cy="139.80" r="0.95" fill="#162222"/>
<circle cx="368.92" cy="145.11" r="0.95" fill="#162222"/>
<circle cx="370.15" cy="150.09" r="0.95" fill="#162222"/>
<circle cx="371.39" cy="154.06" r="0.95" fill="#162222"/>
<circle cx="372.62" cy="155.22" r="0.95" fill="#162222"/>
<circle cx="373.86" cy="157.56" r="0.95" fill="#162222"/>
<circle cx="375.10" cy="148.75" r="0.95" fill="#162222"/>
<circle cx="376.33" cy="155.50" r="0.95" fill="#162222"/>
<circle cx="377.57" cy="150.80" r="0.95" fill="#162222"/>
<circle cx="378.80" cy="147.11" r="0.95" fill="#162222"/>
<circle cx="380.04" cy="135.26" r="0.95" fill="#162222"/>
<circle cx="381.28" cy="134.93" r="0.95" fill="#162222"/>
<circle cx="382.51" cy="128.55" r="0.95" fill="#162222"/>
<circle cx="383.75" cy="130.50" r="0.95" fill="#162222"/>
<circle cx="384.98" cy="122.88" r="0.95" fill="#162222"/>
<circle cx="386.22" cy="132.60" r="0.95" fill="#162222"/>
<circle cx="387.46" cy="139.03" r="0.95" fill="#162222"/>
<circle cx="388.69" cy="149.82" r="0.95" fill="#162222"/>
<circle cx="389.93" cy="146.01" r="0.95" fill="#162222"/>
<circle cx="391.16" cy="143.79" r="0.95" fill="#162222"/>
<circle cx="392.40" cy="134.52" r="0.95" fill="#162222"/>
<circle cx="393.64" cy="133.26" r="0.95" fill="#162222"/>
<circle cx="394.87" cy="135.77" r="0.95" fill="#162222"/>
<circle cx="396.11" cy="146.71" r="0.95" fill="#162222"/>
<circle cx="397.34" cy="152.70" r="0.95" fill="#162222"/>
<circle cx="398.58" cy="158.21" r="0.95" fill="#162222"/>
<circle cx="399.82" cy="158.05" r="0.95" fill="#162222"/>
<circle cx="401.05" cy="159.47" r="0.95" fill="#162222"/>
<circle cx="402.29" cy="154.16" r="0.95" fill="#162222"/>
<circle cx="403.52" cy="151.23" r="0.95" fill="#162222"/>
<circle cx="404.76" cy="143.69" r="0.95" fill="#162222"/>
<circle cx="406.00" cy="141.30" r="0.95" fill="#162222"/>
<circle cx="407.23" cy="126.60" r="0.95" fill="#162222"/>
<circle cx="408.47" cy="147.43" r="0.95" fill="#162222"/>
<circle cx="409.70" cy="154.36" r="0.95" fill="#162222"/>
<circle cx="410.94" cy="160.09" r="0.95" fill="#162222"/>
<circle cx="412.18" cy="158.23" r="0.95" fill="#162222"/>
<circle cx="413.41" cy="160.54" r="0.95" fill="#162222"/>
<circle cx="414.65" cy="157.61" r="0.95" fill="#162222"/>
<circle cx="415.88" cy="158.81" r="0.95" fill="#162222"/>
<circle cx="417.12" cy="152.17" r="0.95" fill="#162222"/>
<circle cx="418.36" cy="152.25" r="0.95" fill="#162222"/>
<circle cx="419.59" cy="143.36" r="0.95" fill="#162222"/>
<circle cx="420.83" cy="136.58" r="0.95" fill="#162222"/>
<circle cx="422.06" cy="137.22" r="0.95" fill="#162222"/>
<circle cx="423.30" cy="142.20" r="0.95" fill="#162222"/>
<circle cx="424.54" cy="140.79" r="0.95" fill="#162222"/>
<circle cx="425.77" cy="144.65" r="0.95" fill="#162222"/>
<circle cx="427.01" cy="144.95" r="0.95" fill="#162222"/>
<circle cx="428.24" cy="150.52" r="0.95" fill="#162222"/>
<circle cx="429.48" cy="148.50" r="0.95" fill="#162222"/>
<circle cx="430.72" cy="152.33" r="0.95" fill="#162222"/>
<circle cx="431.95" cy="151.73" r="0.95" fill="#162222"/>
<circle cx="433.19" cy="157.15" r="0.95" fill="#162222"/>
<circle cx="434.42" cy="155.71" r="0.95" fill="#162222"/>
<circle cx="435.66" cy="159.29" r="0.95" fill="#162222"/>
<circle cx="436.90" cy="156.38" r="0.95" fill="#162222"/>
<circle cx="438.13" cy="157.69" r="0.95" fill="#162222"/>
<circle cx="439.37" cy="155.11" r="0.95" fill="#162222"/>
<circle cx="440.60" cy="157.53" r="0.95" fill="#162222"/>
<circle cx="441.84" cy="153.71" r="0.95" fill="#162222"/>
<circle cx="443.08" cy="154.56" r="0.95" fill="#162222"/>
<circle cx="444.31" cy="150.24" r="0.95" fill="#162222"/>
<circle cx="445.55" cy="150.04" r="0.95" fill="#162222"/>
<circle cx="446.78" cy="144.93" r="0.95" fill="#162222"/>
<circle cx="448.02" cy="143.47" r="0.95" fill="#162222"/>
<circle cx="449.26" cy="135.32" r="0.95" fill="#162222"/>
<circle cx="450.49" cy="135.24" r="0.95" fill="#162222"/>
<circle cx="451.73" cy="147.12" r="0.95" fill="#162222"/>
<circle cx="452.96" cy="150.31" r="0.95" fill="#162222"/>
<circle cx="454.20" cy="148.86" r="0.95" fill="#162222"/>
<circle cx="455.44" cy="150.76" r="0.95" fill="#162222"/>
<circle cx="456.67" cy="148.68" r="0.95" fill="#162222"/>
<circle cx="457.91" cy="152.02" r="0.95" fill="#162222"/>
<circle cx="459.14" cy="147.93" r="0.95" fill="#162222"/>
<circle cx="460.38" cy="151.76" r="0.95" fill="#162222"/>
<circle cx="461.62" cy="148.66" r="0.95" fill="#162222"/>
<circle cx="462.85" cy="152.25" r="0.95" fill="#162222"/>
<circle cx="464.09" cy="149.64" r="0.95" fill="#162222"/>
<circle cx="465.32" cy="154.45" r="0.95" fill="#162222"/>
<circle cx="466.56" cy="153.40" r="0.95" fill="#162222"/>
<circle cx="467.80" cy="156.00" r="0.95" fill="#162222"/>
<circle cx="469.03" cy="152.77" r="0.95" fill="#162222"/>
<circle cx="470.27" cy="155.23" r="0.95" fill="#162222"/>
<circle cx="471.50" cy="154.05" r="0.95" fill="#162222"/>
<circle cx="472.74" cy="155.79" r="0.95" fill="#162222"/>
<circle cx="473.98" cy="153.78" r="0.95" fill="#162222"/>
<circle cx="475.21" cy="156.80" r="0.95" fill="#162222"/>
<circle cx="476.45" cy="153.65" r="0.95" fill="#162222"/>
<circle cx="477.68" cy="152.34" r="0.95" fill="#162222"/>
<circle cx="478.92" cy="145.77" r="0.95" fill="#162222"/>
<circle cx="480.16" cy="136.77" r="0.95" fill="#162222"/>
<circle cx="481.39" cy="146.44" r="0.95" fill="#162222"/>
<circle cx="482.63" cy="151.97" r="0.95" fill="#162222"/>
<circle cx="483.86" cy="149.00" r="0.95" fill="#162222"/>
<circle cx="485.10" cy="149.79" r="0.95" fill="#162222"/>
<circle cx="486.34" cy="142.41" r="0.95" fill="#162222"/>
<circle cx="487.57" cy="149.05" r="0.95" fill="#162222"/>
<circle cx="488.81" cy="148.98" r="0.95" fill="#162222"/>
<circle cx="490.04" cy="146.69" r="0.95" fill="#162222"/>
<circle cx="491.28" cy="149.38" r="0.95" fill="#162222"/>
<circle cx="492.52" cy="153.79" r="0.95" fill="#162222"/>
<circle cx="493.75" cy="146.55" r="0.95" fill="#162222"/>
<circle cx="494.99" cy="145.01" r="0.95" fill="#162222"/>
<circle cx="496.22" cy="140.73" r="0.95" fill="#162222"/>
<circle cx="497.46" cy="137.80" r="0.95" fill="#162222"/>
<circle cx="498.70" cy="126.12" r="0.95" fill="#162222"/>
<circle cx="499.93" cy="118.13" r="0.95" fill="#162222"/>
<path d="M322.1 37.0V175.0H507.5V37.0Z" stroke="#1a1a1a" stroke-width="1.5" fill="none"/>
<path d="M318.3 175.00H322.1" stroke="#1a1a1a" stroke-width="1.1"/>
<text x="315.8" y="177.60" text-anchor="end" textLength="12" lengthAdjust="spacingAndGlyphs" font-family='"Liberation Sans", sans-serif' font-size="7.6" fill="#3a3a3a" stroke="#3a3a3a" stroke-width="0.1">0.0</text>
<path d="M318.3 157.75H322.1" stroke="#1a1a1a" stroke-width="1.1"/>
<text x="315.8" y="160.35" text-anchor="end" textLength="12" lengthAdjust="spacingAndGlyphs" font-family='"Liberation Sans", sans-serif' font-size="7.6" fill="#3a3a3a" stroke="#3a3a3a" stroke-width="0.1">0.5</text>
<path d="M318.3 140.50H322.1" stroke="#1a1a1a" stroke-width="1.1"/>
<text x="315.8" y="143.10" text-anchor="end" textLength="12" lengthAdjust="spacingAndGlyphs" font-family='"Liberation Sans", sans-serif' font-size="7.6" fill="#3a3a3a" stroke="#3a3a3a" stroke-width="0.1">1.0</text>
<path d="M318.3 123.25H322.1" stroke="#1a1a1a" stroke-width="1.1"/>
<text x="315.8" y="125.85" text-anchor="end" textLength="12" lengthAdjust="spacingAndGlyphs" font-family='"Liberation Sans", sans-serif' font-size="7.6" fill="#3a3a3a" stroke="#3a3a3a" stroke-width="0.1">1.5</text>
<path d="M318.3 106.00H322.1" stroke="#1a1a1a" stroke-width="1.1"/>
<text x="315.8" y="108.60" text-anchor="end" textLength="12" lengthAdjust="spacingAndGlyphs" font-family='"Liberation Sans", sans-serif' font-size="7.6" fill="#3a3a3a" stroke="#3a3a3a" stroke-width="0.1">2.0</text>
<path d="M318.3 88.75H322.1" stroke="#1a1a1a" stroke-width="1.1"/>
<text x="315.8" y="91.35" text-anchor="end" textLength="12" lengthAdjust="spacingAndGlyphs" font-family='"Liberation Sans", sans-serif' font-size="7.6" fill="#3a3a3a" stroke="#3a3a3a" stroke-width="0.1">2.5</text>
<path d="M318.3 71.50H322.1" stroke="#1a1a1a" stroke-width="1.1"/>
<text x="315.8" y="74.10" text-anchor="end" textLength="12" lengthAdjust="spacingAndGlyphs" font-family='"Liberation Sans", sans-serif' font-size="7.6" fill="#3a3a3a" stroke="#3a3a3a" stroke-width="0.1">3.0</text>
<path d="M318.3 54.25H322.1" stroke="#1a1a1a" stroke-width="1.1"/>
<text x="315.8" y="56.85" text-anchor="end" textLength="12" lengthAdjust="spacingAndGlyphs" font-family='"Liberation Sans", sans-serif' font-size="7.6" fill="#3a3a3a" stroke="#3a3a3a" stroke-width="0.1">3.5</text>
<path d="M318.3 37.00H322.1" stroke="#1a1a1a" stroke-width="1.1"/>
<text x="315.8" y="39.60" text-anchor="end" textLength="12" lengthAdjust="spacingAndGlyphs" font-family='"Liberation Sans", sans-serif' font-size="7.6" fill="#3a3a3a" stroke="#3a3a3a" stroke-width="0.1">4.0</text>
<path d="M330.60 175.0V178.4" stroke="#1a1a1a" stroke-width="1.1"/>
<text x="333.20" y="186.20" transform="rotate(-45 333.20 186.20)" text-anchor="end" textLength="6.70" lengthAdjust="spacingAndGlyphs" font-family='"Liberation Sans", sans-serif' font-size="7.1" fill="#333" stroke="#333" stroke-width="0.1">10</text>
<path d="M342.96 175.0V178.4" stroke="#1a1a1a" stroke-width="1.1"/>
<text x="345.56" y="186.20" transform="rotate(-45 345.56 186.20)" text-anchor="end" textLength="6.70" lengthAdjust="spacingAndGlyphs" font-family='"Liberation Sans", sans-serif' font-size="7.1" fill="#333" stroke="#333" stroke-width="0.1">20</text>
<path d="M355.32 175.0V178.4" stroke="#1a1a1a" stroke-width="1.1"/>
<text x="357.92" y="186.20" transform="rotate(-45 357.92 186.20)" text-anchor="end" textLength="6.70" lengthAdjust="spacingAndGlyphs" font-family='"Liberation Sans", sans-serif' font-size="7.1" fill="#333" stroke="#333" stroke-width="0.1">30</text>
<path d="M367.68 175.0V178.4" stroke="#1a1a1a" stroke-width="1.1"/>
<text x="370.28" y="186.20" transform="rotate(-45 370.28 186.20)" text-anchor="end" textLength="6.70" lengthAdjust="spacingAndGlyphs" font-family='"Liberation Sans", sans-serif' font-size="7.1" fill="#333" stroke="#333" stroke-width="0.1">40</text>
<path d="M380.04 175.0V178.4" stroke="#1a1a1a" stroke-width="1.1"/>
<text x="382.64" y="186.20" transform="rotate(-45 382.64 186.20)" text-anchor="end" textLength="6.70" lengthAdjust="spacingAndGlyphs" font-family='"Liberation Sans", sans-serif' font-size="7.1" fill="#333" stroke="#333" stroke-width="0.1">50</text>
<path d="M392.40 175.0V178.4" stroke="#1a1a1a" stroke-width="1.1"/>
<text x="395.00" y="186.20" transform="rotate(-45 395.00 186.20)" text-anchor="end" textLength="6.70" lengthAdjust="spacingAndGlyphs" font-family='"Liberation Sans", sans-serif' font-size="7.1" fill="#333" stroke="#333" stroke-width="0.1">60</text>
<path d="M404.76 175.0V178.4" stroke="#1a1a1a" stroke-width="1.1"/>
<text x="407.36" y="186.20" transform="rotate(-45 407.36 186.20)" text-anchor="end" textLength="6.70" lengthAdjust="spacingAndGlyphs" font-family='"Liberation Sans", sans-serif' font-size="7.1" fill="#333" stroke="#333" stroke-width="0.1">70</text>
<path d="M417.12 175.0V178.4" stroke="#1a1a1a" stroke-width="1.1"/>
<text x="419.72" y="186.20" transform="rotate(-45 419.72 186.20)" text-anchor="end" textLength="6.70" lengthAdjust="spacingAndGlyphs" font-family='"Liberation Sans", sans-serif' font-size="7.1" fill="#333" stroke="#333" stroke-width="0.1">80</text>
<path d="M429.48 175.0V178.4" stroke="#1a1a1a" stroke-width="1.1"/>
<text x="432.08" y="186.20" transform="rotate(-45 432.08 186.20)" text-anchor="end" textLength="6.70" lengthAdjust="spacingAndGlyphs" font-family='"Liberation Sans", sans-serif' font-size="7.1" fill="#333" stroke="#333" stroke-width="0.1">90</text>
<path d="M441.84 175.0V178.4" stroke="#1a1a1a" stroke-width="1.1"/>
<text x="444.44" y="186.20" transform="rotate(-45 444.44 186.20)" text-anchor="end" textLength="10.05" lengthAdjust="spacingAndGlyphs" font-family='"Liberation Sans", sans-serif' font-size="7.1" fill="#333" stroke="#333" stroke-width="0.1">100</text>
<path d="M454.20 175.0V178.4" stroke="#1a1a1a" stroke-width="1.1"/>
<text x="456.80" y="186.20" transform="rotate(-45 456.80 186.20)" text-anchor="end" textLength="10.05" lengthAdjust="spacingAndGlyphs" font-family='"Liberation Sans", sans-serif' font-size="7.1" fill="#333" stroke="#333" stroke-width="0.1">110</text>
<path d="M466.56 175.0V178.4" stroke="#1a1a1a" stroke-width="1.1"/>
<text x="469.16" y="186.20" transform="rotate(-45 469.16 186.20)" text-anchor="end" textLength="10.05" lengthAdjust="spacingAndGlyphs" font-family='"Liberation Sans", sans-serif' font-size="7.1" fill="#333" stroke="#333" stroke-width="0.1">120</text>
<path d="M478.92 175.0V178.4" stroke="#1a1a1a" stroke-width="1.1"/>
<text x="481.52" y="186.20" transform="rotate(-45 481.52 186.20)" text-anchor="end" textLength="10.05" lengthAdjust="spacingAndGlyphs" font-family='"Liberation Sans", sans-serif' font-size="7.1" fill="#333" stroke="#333" stroke-width="0.1">130</text>
<path d="M491.28 175.0V178.4" stroke="#1a1a1a" stroke-width="1.1"/>
<text x="493.88" y="186.20" transform="rotate(-45 493.88 186.20)" text-anchor="end" textLength="10.05" lengthAdjust="spacingAndGlyphs" font-family='"Liberation Sans", sans-serif' font-size="7.1" fill="#333" stroke="#333" stroke-width="0.1">140</text>
<text x="390.6" y="207" textLength="48" lengthAdjust="spacingAndGlyphs" font-family='"Liberation Sans", sans-serif' font-size="9" fill="#222" stroke="#222" stroke-width="0.22">Residue index</text>
<text transform="translate(298.4 120.3) rotate(-90)" textLength="29.6" lengthAdjust="spacingAndGlyphs" font-family='"Liberation Sans", sans-serif' font-size="9.3" fill="#222" stroke="#222" stroke-width="0.15">RMSF <tspan font-style="italic">(Å)</tspan></text>
<text x="344.6" y="19.7" textLength="140.4" lengthAdjust="spacingAndGlyphs" font-family='"Liberation Sans", sans-serif' font-size="9.1" fill="#1e1e1e" stroke="#1e1e1e" stroke-width="0.22"><tspan>C</tspan><tspan font-size="6" dy="-3.4">α</tspan><tspan dy="3.4"> fluctuations of free, wild-type</tspan></text>
<text x="364.9" y="30.75" textLength="100.4" lengthAdjust="spacingAndGlyphs" font-family='"Liberation Sans", sans-serif' font-size="9.1" fill="#1e1e1e" stroke="#1e1e1e" stroke-width="0.22">and COPZ1 Gly132Arg</text>
<path d="M317 217.2H326" stroke="#333" stroke-width="0.8" stroke-dasharray="1 0.8"/><circle cx="321.5" cy="217.2" r="1" fill="#111"/>
<text x="328.4" y="219.5" textLength="61.3" lengthAdjust="spacingAndGlyphs" font-family='"Liberation Sans", sans-serif' font-size="7.2" fill="#222" stroke="#222" stroke-width="0.15">WT average RMSF</text>
<path d="M407.4 217.2H414.8" stroke="#f0a0a0" stroke-width="0.8"/><circle cx="410.9" cy="217.2" r="0.9" fill="#b83030"/>
<text x="417.4" y="219.5" textLength="86.6" lengthAdjust="spacingAndGlyphs" font-family='"Liberation Sans", sans-serif' font-size="7.2" fill="#222" stroke="#222" stroke-width="0.15">Gly132Arg average RMSF</text>
<rect x="316.8" y="225.8" width="5" height="5.3" fill="#a9cabf"/>
<text x="324.4" y="230.8" textLength="74.2" lengthAdjust="spacingAndGlyphs" font-family='"Liberation Sans", sans-serif' font-size="7.2" fill="#222" stroke="#222" stroke-width="0.15">WT standard deviation</text>
<rect x="405.8" y="225.6" width="5" height="5.3" fill="#f2d6c4"/>
<text x="413.6" y="230.8" textLength="98.6" lengthAdjust="spacingAndGlyphs" font-family='"Liberation Sans", sans-serif' font-size="7.2" fill="#222" stroke="#222" stroke-width="0.15">Gly132Arg standard deviation</text>
<path d="M0.5 0V240" stroke="#505050" stroke-width="1"/>
<path d="M0 0.5H520" stroke="#505050" stroke-width="1"/>
<path d="M519.5 0V240" stroke="#505050" stroke-width="1"/>
<path d="M0 239.5H520" stroke="#555" stroke-width="1"/>
</svg>
</body></html>
